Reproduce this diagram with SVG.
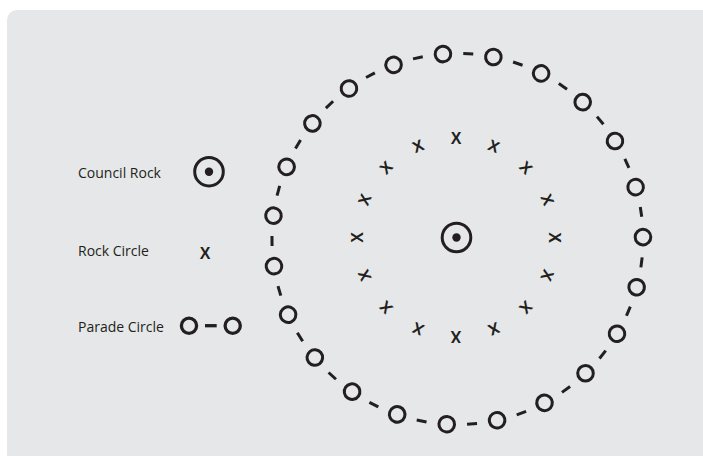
<svg xmlns="http://www.w3.org/2000/svg" xmlns:xlink="http://www.w3.org/1999/xlink" width="703" height="456" viewBox="0 0 703 456">
  <style>
    .lbl { font-family: "Open Sans", "Noto Sans", "Liberation Sans", sans-serif; font-size: 14px; fill: #231f20; }
    .xm { font-family: "Liberation Sans", Arial, sans-serif; font-size: 16px; font-weight: bold; fill: #231f20; }
    .ring { fill: none; stroke: #231f20; stroke-width: 3; }
    .dot { fill: #231f20; }
    .dash { stroke: #231f20; stroke-width: 3; stroke-linecap: butt; }
  </style>
  <defs>
    <circle id="pc" cx="457.5" cy="53.5" r="7.8" class="ring"/>
    <line id="pd" x1="452.5" y1="53.5" x2="462.5" y2="53.5" class="dash"/>
    <text id="xm" x="456" y="144.2" text-anchor="middle" class="xm">X</text>
  </defs>

  <rect x="7" y="10" width="720" height="470" rx="10" ry="10" fill="#e6e7e8"/>

  <!-- Legend -->
  <g id="legend-council-rock">
    <text x="78" y="178" class="lbl">Council Rock</text>
    <circle cx="209" cy="171.7" r="14.3" class="ring"/>
    <circle cx="209" cy="171.7" r="4.2" class="dot"/>
  </g>
  <g id="legend-rock-circle">
    <text x="78" y="256" class="lbl">Rock Circle</text>
    <text x="205" y="258.5" text-anchor="middle" class="xm">X</text>
  </g>
  <g id="legend-parade-circle">
    <text x="78" y="332" class="lbl">Parade Circle</text>
    <circle cx="189" cy="325.7" r="7.6" class="ring" style="stroke-width:3.3"/>
    <line x1="205" y1="325.7" x2="216.7" y2="325.7" class="dash" style="stroke-width:3.3"/>
    <circle cx="232.7" cy="325.7" r="7.6" class="ring" style="stroke-width:3.3"/>
  </g>

  <!-- Council Rock -->
  <g id="council-rock">
    <circle cx="456.5" cy="237.5" r="14.3" class="ring"/>
    <circle cx="456.5" cy="237.5" r="4.2" class="dot"/>
  </g>

  <!-- Rock Circle -->
  <g id="rock-circle">
    <use xlink:href="#xm" href="#xm" transform="rotate(0 456 237.5)"/>
    <use xlink:href="#xm" href="#xm" transform="rotate(22.5 456 237.5)"/>
    <use xlink:href="#xm" href="#xm" transform="rotate(45 456 237.5)"/>
    <use xlink:href="#xm" href="#xm" transform="rotate(67.5 456 237.5)"/>
    <use xlink:href="#xm" href="#xm" transform="rotate(90 456 237.5)"/>
    <use xlink:href="#xm" href="#xm" transform="rotate(112.5 456 237.5)"/>
    <use xlink:href="#xm" href="#xm" transform="rotate(135 456 237.5)"/>
    <use xlink:href="#xm" href="#xm" transform="rotate(157.5 456 237.5)"/>
    <use xlink:href="#xm" href="#xm" transform="rotate(180 456 237.5)"/>
    <use xlink:href="#xm" href="#xm" transform="rotate(202.5 456 237.5)"/>
    <use xlink:href="#xm" href="#xm" transform="rotate(225 456 237.5)"/>
    <use xlink:href="#xm" href="#xm" transform="rotate(247.5 456 237.5)"/>
    <use xlink:href="#xm" href="#xm" transform="rotate(270 456 237.5)"/>
    <use xlink:href="#xm" href="#xm" transform="rotate(292.5 456 237.5)"/>
    <use xlink:href="#xm" href="#xm" transform="rotate(315 456 237.5)"/>
    <use xlink:href="#xm" href="#xm" transform="rotate(337.5 456 237.5)"/>
  </g>

  <!-- Parade Circle connectors -->
  <g id="connectors">
    <use xlink:href="#pd" href="#pd" transform="rotate(3.326 457.5 239)"/>
    <use xlink:href="#pd" href="#pd" transform="rotate(18.978 457.5 239)"/>
    <use xlink:href="#pd" href="#pd" transform="rotate(34.63 457.5 239)"/>
    <use xlink:href="#pd" href="#pd" transform="rotate(50.283 457.5 239)"/>
    <use xlink:href="#pd" href="#pd" transform="rotate(65.935 457.5 239)"/>
    <use xlink:href="#pd" href="#pd" transform="rotate(81.587 457.5 239)"/>
    <use xlink:href="#pd" href="#pd" transform="rotate(97.239 457.5 239)"/>
    <use xlink:href="#pd" href="#pd" transform="rotate(112.891 457.5 239)"/>
    <use xlink:href="#pd" href="#pd" transform="rotate(128.543 457.5 239)"/>
    <use xlink:href="#pd" href="#pd" transform="rotate(144.196 457.5 239)"/>
    <use xlink:href="#pd" href="#pd" transform="rotate(159.848 457.5 239)"/>
    <use xlink:href="#pd" href="#pd" transform="rotate(175.5 457.5 239)"/>
    <use xlink:href="#pd" href="#pd" transform="rotate(191.152 457.5 239)"/>
    <use xlink:href="#pd" href="#pd" transform="rotate(206.804 457.5 239)"/>
    <use xlink:href="#pd" href="#pd" transform="rotate(222.457 457.5 239)"/>
    <use xlink:href="#pd" href="#pd" transform="rotate(238.109 457.5 239)"/>
    <use xlink:href="#pd" href="#pd" transform="rotate(253.761 457.5 239)"/>
    <use xlink:href="#pd" href="#pd" transform="rotate(269.413 457.5 239)"/>
    <use xlink:href="#pd" href="#pd" transform="rotate(285.065 457.5 239)"/>
    <use xlink:href="#pd" href="#pd" transform="rotate(300.717 457.5 239)"/>
    <use xlink:href="#pd" href="#pd" transform="rotate(316.37 457.5 239)"/>
    <use xlink:href="#pd" href="#pd" transform="rotate(332.022 457.5 239)"/>
    <use xlink:href="#pd" href="#pd" transform="rotate(347.674 457.5 239)"/>
  </g>

  <!-- Parade Circle -->
  <g id="parade-circle">
    <use xlink:href="#pc" href="#pc" transform="rotate(-4.5 457.5 239)"/>
    <use xlink:href="#pc" href="#pc" transform="rotate(11.152 457.5 239)"/>
    <use xlink:href="#pc" href="#pc" transform="rotate(26.804 457.5 239)"/>
    <use xlink:href="#pc" href="#pc" transform="rotate(42.457 457.5 239)"/>
    <use xlink:href="#pc" href="#pc" transform="rotate(58.109 457.5 239)"/>
    <use xlink:href="#pc" href="#pc" transform="rotate(73.761 457.5 239)"/>
    <use xlink:href="#pc" href="#pc" transform="rotate(89.413 457.5 239)"/>
    <use xlink:href="#pc" href="#pc" transform="rotate(105.065 457.5 239)"/>
    <use xlink:href="#pc" href="#pc" transform="rotate(120.717 457.5 239)"/>
    <use xlink:href="#pc" href="#pc" transform="rotate(136.37 457.5 239)"/>
    <use xlink:href="#pc" href="#pc" transform="rotate(152.022 457.5 239)"/>
    <use xlink:href="#pc" href="#pc" transform="rotate(167.674 457.5 239)"/>
    <use xlink:href="#pc" href="#pc" transform="rotate(183.326 457.5 239)"/>
    <use xlink:href="#pc" href="#pc" transform="rotate(198.978 457.5 239)"/>
    <use xlink:href="#pc" href="#pc" transform="rotate(214.63 457.5 239)"/>
    <use xlink:href="#pc" href="#pc" transform="rotate(230.283 457.5 239)"/>
    <use xlink:href="#pc" href="#pc" transform="rotate(245.935 457.5 239)"/>
    <use xlink:href="#pc" href="#pc" transform="rotate(261.587 457.5 239)"/>
    <use xlink:href="#pc" href="#pc" transform="rotate(277.239 457.5 239)"/>
    <use xlink:href="#pc" href="#pc" transform="rotate(292.891 457.5 239)"/>
    <use xlink:href="#pc" href="#pc" transform="rotate(308.543 457.5 239)"/>
    <use xlink:href="#pc" href="#pc" transform="rotate(324.196 457.5 239)"/>
    <use xlink:href="#pc" href="#pc" transform="rotate(339.848 457.5 239)"/>
  </g>
</svg>
